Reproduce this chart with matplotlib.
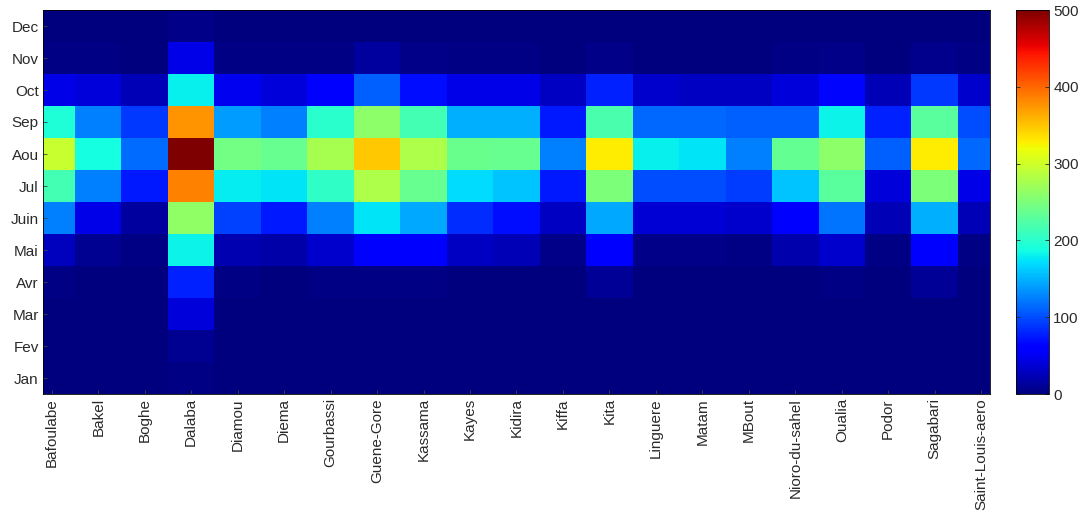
import numpy as np
import matplotlib
matplotlib.use("Agg")
import matplotlib.pyplot as plt

stations = ["Bafoulabe", "Bakel", "Boghe", "Dalaba", "Diamou", "Diema", "Gourbassi",
            "Guene-Gore", "Kassama", "Kayes", "Kidira", "Kiffa", "Kita", "Linguere",
            "Matam", "MBout", "Nioro-du-sahel", "Oualia", "Podor", "Sagabari",
            "Saint-Louis-aero"]
months = ["Jan", "Fev", "Mar", "Avr", "Mai", "Juin", "Jul", "Aou", "Sep", "Oct", "Nov", "Dec"]
cbar_ticks = [0, 100, 200, 300, 400, 500]

# monthly values per station (Jan..Dec)
Bafoulabe        = [0, 0, 0, 2, 28, 125, 215, 295, 195, 45, 3, 0]
Bakel            = [0, 0, 0, 0, 8, 45, 125, 188, 125, 40, 2, 0]
Boghe            = [0, 0, 0, 0, 3, 15, 75, 117, 90, 25, 0, 0]
Dalaba           = [3, 8, 40, 80, 182, 262, 385, 500, 375, 180, 45, 5]
Diamou           = [0, 0, 0, 2, 22, 94, 178, 245, 140, 50, 3, 0]
Diema            = [0, 0, 0, 0, 18, 75, 175, 237, 125, 40, 2, 0]
Gourbassi        = [0, 0, 0, 2, 35, 125, 205, 276, 200, 62, 3, 0]
Guene_Gore       = [0, 0, 0, 3, 62, 175, 281, 348, 260, 110, 15, 0]
Kassama          = [0, 0, 0, 3, 62, 146, 237, 281, 215, 70, 5, 0]
Kayes            = [0, 0, 0, 0, 30, 85, 170, 240, 150, 45, 2, 0]
Kidira           = [0, 0, 0, 0, 25, 70, 160, 237, 150, 45, 2, 0]
Kiffa            = [0, 0, 0, 0, 5, 30, 75, 125, 75, 30, 0, 0]
Kita             = [0, 0, 0, 10, 60, 145, 250, 330, 220, 80, 5, 0]
Linguere         = [0, 0, 0, 0, 5, 38, 100, 180, 115, 35, 0, 0]
Matam            = [0, 0, 0, 0, 5, 38, 100, 175, 115, 30, 0, 0]
MBout            = [0, 0, 0, 0, 3, 35, 92, 125, 110, 30, 0, 0]
Nioro_du_sahel   = [0, 0, 0, 0, 20, 62, 160, 235, 110, 40, 2, 0]
Oualia           = [0, 0, 0, 2, 35, 120, 230, 260, 182, 65, 4, 0]
Podor            = [0, 0, 0, 0, 3, 25, 40, 110, 80, 25, 0, 0]
Sagabari         = [0, 0, 0, 10, 60, 150, 250, 330, 230, 90, 6, 0]
Saint_Louis_aero = [0, 0, 0, 0, 3, 25, 45, 115, 100, 35, 2, 0]

data = np.array([Bafoulabe, Bakel, Boghe, Dalaba, Diamou, Diema, Gourbassi, Guene_Gore,
                 Kassama, Kayes, Kidira, Kiffa, Kita, Linguere, Matam, MBout,
                 Nioro_du_sahel, Oualia, Podor, Sagabari, Saint_Louis_aero]).T

plt.rcParams['font.family'] = ['Liberation Sans', 'DejaVu Sans']

fig = plt.figure(figsize=(10.85, 5.21), dpi=100)
ax = fig.add_axes([43 / 1085, 1 - 394 / 521, 947 / 1085, 384 / 521])
im = ax.imshow(data, cmap='jet', vmin=0, vmax=500, origin='lower',
               aspect='auto', interpolation='nearest')
ax.set_xlim(-0.19, len(stations) - 0.81)
ax.set_xticks(np.arange(len(stations)))
ax.set_xticklabels(stations, rotation=90, fontsize=11, color='#2a2a2a')
ax.set_yticks(np.arange(len(months)))
ax.set_yticklabels(months, fontsize=11, color='#2a2a2a')
ax.tick_params(direction='in', length=3, width=0.6, color='#444444', pad=3)
for s in ax.spines.values():
    s.set_linewidth(0.6)

cax = fig.add_axes([1016 / 1085, 1 - 394 / 521, 33 / 1085, 384 / 521])
cb = fig.colorbar(im, cax=cax, ticks=cbar_ticks)
cb.ax.tick_params(labelsize=11, direction='in', length=3, width=0.6,
                  left=True, right=True, colors='#2a2a2a', pad=3)
cb.outline.set_linewidth(0.6)

fig.savefig("out.png", dpi=100)
